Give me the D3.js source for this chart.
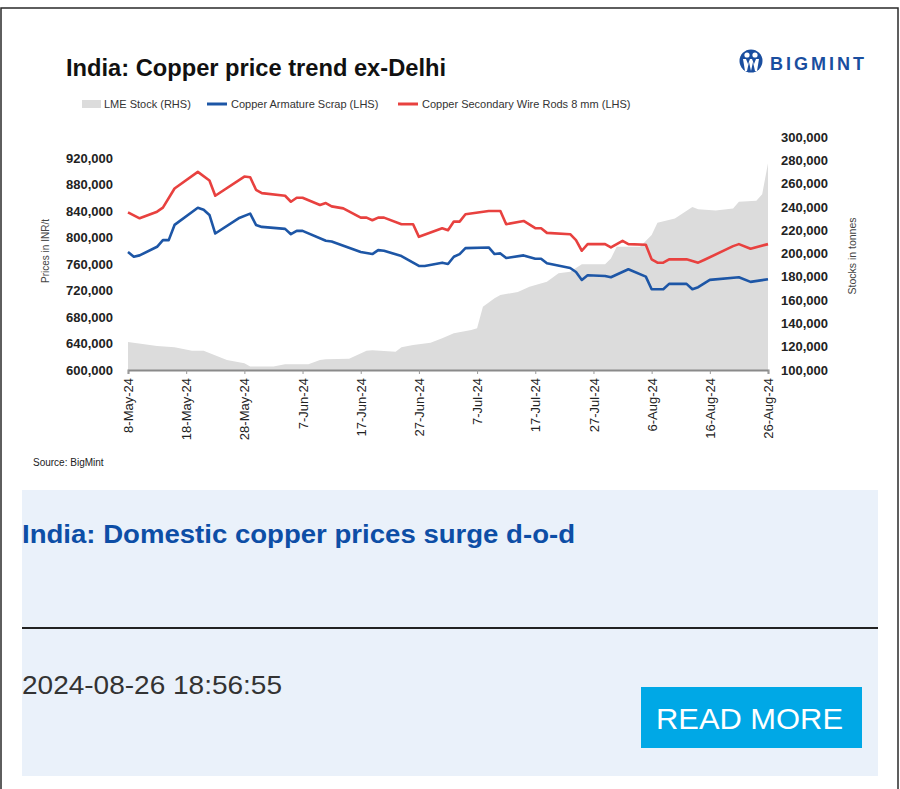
<!DOCTYPE html>
<html lang="en">
<head>
  <meta charset="UTF-8">
  <title>India: Copper price trend ex-Delhi</title>
  <script src="https://d3js.org/d3.v7.min.js"></script>
  <style>
    html, body { margin: 0; padding: 0; background: #fff; }
    svg { display: block; font-family: "Liberation Sans", Arial, sans-serif; }
  </style>
</head>
<body>
<div id="app"></div>
<script>
  // values: [date, value]
  const lmeStock = [
    ['2024-05-08', 124000], ['2024-05-13', 120600], ['2024-05-16', 119500], ['2024-05-19', 116600],
    ['2024-05-21', 116600], ['2024-05-25', 108600], ['2024-05-28', 105700], ['2024-05-29', 102900],
    ['2024-06-02', 103000], ['2024-06-04', 104900], ['2024-06-08', 105000], ['2024-06-10', 108600],
    ['2024-06-11', 109200], ['2024-06-15', 109700], ['2024-06-18', 116600], ['2024-06-19', 117000],
    ['2024-06-23', 115700], ['2024-06-24', 119500], ['2024-06-26', 121500], ['2024-06-29', 123400],
    ['2024-07-01', 127200], ['2024-07-03', 131500], ['2024-07-06', 134300], ['2024-07-07', 135800],
    ['2024-07-08', 154300], ['2024-07-10', 161500], ['2024-07-11', 164400], ['2024-07-14', 167000],
    ['2024-07-16', 171500], ['2024-07-19', 175800], ['2024-07-21', 183000], ['2024-07-23', 184300],
    ['2024-07-25', 190700], ['2024-07-29', 190700], ['2024-07-30', 195800], ['2024-07-31', 205800],
    ['2024-08-04', 205800], ['2024-08-06', 215800], ['2024-08-07', 226400], ['2024-08-10', 230000],
    ['2024-08-13', 240000], ['2024-08-14', 238000], ['2024-08-17', 237000], ['2024-08-20', 238700],
    ['2024-08-21', 244400], ['2024-08-24', 245300], ['2024-08-25', 250800], ['2024-08-26', 277400]
  ];

  const armatureScrap = [
    ['2024-05-08', 778000], ['2024-05-09', 771000], ['2024-05-10', 773000], ['2024-05-13', 786000],
    ['2024-05-14', 796000], ['2024-05-15', 796000], ['2024-05-16', 819000], ['2024-05-20', 845000],
    ['2024-05-21', 842000], ['2024-05-22', 834000], ['2024-05-23', 806000], ['2024-05-27', 829000],
    ['2024-05-29', 836000], ['2024-05-30', 819000], ['2024-05-31', 816000], ['2024-06-04', 813000],
    ['2024-06-05', 805000], ['2024-06-06', 810000], ['2024-06-07', 810000], ['2024-06-11', 795000],
    ['2024-06-12', 794000], ['2024-06-17', 778000], ['2024-06-19', 775000], ['2024-06-20', 781000],
    ['2024-06-21', 780000], ['2024-06-24', 772000], ['2024-06-27', 757000], ['2024-06-28', 757000],
    ['2024-07-01', 762000], ['2024-07-02', 760000], ['2024-07-03', 771000], ['2024-07-04', 775000],
    ['2024-07-05', 784000], ['2024-07-09', 785000], ['2024-07-10', 775000], ['2024-07-11', 776000],
    ['2024-07-12', 769000], ['2024-07-15', 773000], ['2024-07-17', 768000], ['2024-07-18', 768000],
    ['2024-07-19', 761000], ['2024-07-23', 754000], ['2024-07-24', 748000], ['2024-07-25', 736000],
    ['2024-07-26', 743000], ['2024-07-29', 742000], ['2024-07-30', 740000], ['2024-08-02', 752000],
    ['2024-08-05', 741000], ['2024-08-06', 722000], ['2024-08-08', 722000], ['2024-08-09', 730000],
    ['2024-08-12', 730000], ['2024-08-13', 722000], ['2024-08-14', 725000], ['2024-08-16', 736000],
    ['2024-08-21', 740000], ['2024-08-23', 733000], ['2024-08-26', 737000]
  ];

  const wireRods = [
    ['2024-05-08', 838000], ['2024-05-10', 829000], ['2024-05-13', 839000], ['2024-05-14', 845000],
    ['2024-05-16', 874000], ['2024-05-20', 899000], ['2024-05-22', 886000], ['2024-05-23', 863000],
    ['2024-05-28', 892000], ['2024-05-29', 891000], ['2024-05-30', 872000], ['2024-05-31', 867000],
    ['2024-06-04', 863000], ['2024-06-05', 854000], ['2024-06-06', 860000], ['2024-06-07', 860000],
    ['2024-06-10', 849000], ['2024-06-11', 852000], ['2024-06-12', 847000], ['2024-06-14', 844000],
    ['2024-06-17', 830000], ['2024-06-18', 830000], ['2024-06-19', 826000], ['2024-06-20', 830000],
    ['2024-06-21', 830000], ['2024-06-24', 820000], ['2024-06-26', 820000], ['2024-06-27', 801000],
    ['2024-07-01', 814000], ['2024-07-02', 811000], ['2024-07-03', 824000], ['2024-07-04', 824000],
    ['2024-07-05', 835000], ['2024-07-09', 840000], ['2024-07-11', 840000], ['2024-07-12', 820000],
    ['2024-07-15', 825000], ['2024-07-17', 814000], ['2024-07-18', 814000], ['2024-07-19', 807000],
    ['2024-07-23', 805000], ['2024-07-24', 796000], ['2024-07-25', 780000], ['2024-07-26', 790000],
    ['2024-07-29', 790000], ['2024-07-30', 785000], ['2024-08-01', 795000], ['2024-08-02', 790000],
    ['2024-08-05', 789000], ['2024-08-06', 767000], ['2024-08-07', 762000], ['2024-08-08', 762000],
    ['2024-08-09', 767000], ['2024-08-12', 767000], ['2024-08-14', 762000], ['2024-08-15', 766000],
    ['2024-08-20', 787000], ['2024-08-21', 790000], ['2024-08-23', 783000], ['2024-08-26', 790000]
  ];

  const xTicks = ['2024-05-08', '2024-05-18', '2024-05-28', '2024-06-07', '2024-06-17', '2024-06-27',
    '2024-07-07', '2024-07-17', '2024-07-27', '2024-08-06', '2024-08-16', '2024-08-26'];
  const leftTicks = [600000, 640000, 680000, 720000, 760000, 800000, 840000, 880000, 920000];
  const rightTicks = [100000, 120000, 140000, 160000, 180000, 200000, 220000, 240000, 260000, 280000, 300000];

  const legendItems = [
    { label: 'LME Stock (RHS)', type: 'area', color: '#dcdcdc' },
    { label: 'Copper Armature Scrap (LHS)', type: 'line', color: '#1d56a6' },
    { label: 'Copper Secondary Wire Rods 8 mm (LHS)', type: 'line', color: '#e8413f' }
  ];

  const parse = d3.timeParse('%Y-%m-%d');
  const fmtTick = d3.timeFormat('%-d-%b-%y');
  const fmtNum = d3.format(',');

  const w = 900;
  const h = 789;
  const left = 128;
  const right = 768;
  const bottom = 370;

  const svg = d3.select('#app')
    .append('svg')
    .attr('width', w)
    .attr('height', h);

  // page frame
  svg.append('rect')
    .attr('x', 1).attr('y', 8)
    .attr('width', w - 3).attr('height', h + 20)
    .attr('fill', '#fff')
    .attr('stroke', '#2a2a2a')
    .attr('stroke-width', 1.5);

  const xScale = d3.scaleTime()
    .domain([parse('2024-05-08'), parse('2024-08-26')])
    .range([left, right]);
  const yLeft = d3.scaleLinear()
    .domain([600000, 920000])
    .range([bottom, 158]);
  const yRight = d3.scaleLinear()
    .domain([100000, 300000])
    .range([bottom, 137]);

  // title
  svg.append('text')
    .attr('x', 66).attr('y', 76)
    .attr('font-size', 23).attr('font-weight', 'bold')
    .attr('fill', '#111')
    .attr('textLength', 380).attr('lengthAdjust', 'spacingAndGlyphs')
    .text('India: Copper price trend ex-Delhi');

  // logo
  const logo = svg.append('g').attr('transform', 'translate(751,61)');
  logo.append('circle').attr('r', 11.5).attr('fill', '#1a4e9f');
  logo.append('circle').attr('cx', -4).attr('cy', -6).attr('r', 2.6).attr('fill', '#fff');
  logo.append('circle').attr('cx', 4).attr('cy', -6).attr('r', 2.6).attr('fill', '#fff');
  logo.append('path')
    .attr('d', 'M-8,-2 L-6,10 L-4,10 L-2,1 L0,10 L2,1 L4,10 L6,10 L8,-2 L5,-2 L3,3 L1,-2 L-1,-2 L-3,3 L-5,-2 Z')
    .attr('fill', '#fff');
  svg.append('text')
    .attr('x', 770).attr('y', 70)
    .attr('font-size', 18).attr('font-weight', 'bold')
    .attr('fill', '#1a4e9f')
    .attr('textLength', 94).attr('lengthAdjust', 'spacing')
    .text('BIGMINT');

  // legend
  const legendX = [82, 207, 398];
  const legend = svg.append('g').attr('font-size', 11).attr('fill', '#333');
  legendItems.forEach((d, i) => {
    const g = legend.append('g').attr('transform', `translate(${legendX[i]},104)`);
    if (d.type === 'area') {
      g.append('rect').attr('x', 0).attr('y', -4).attr('width', 19).attr('height', 8).attr('fill', d.color);
    } else {
      g.append('line').attr('x1', 0).attr('x2', 20).attr('stroke', d.color).attr('stroke-width', 3);
    }
    g.append('text').attr('x', i === 0 ? 22 : 24).attr('dy', '0.35em').text(d.label);
  });

  // LME stock area
  const area = d3.area()
    .x(d => xScale(parse(d[0])))
    .y0(bottom)
    .y1(d => yRight(d[1]));
  svg.append('path')
    .datum(lmeStock)
    .attr('d', area)
    .attr('fill', '#dcdcdc');

  // price lines
  const line = d3.line()
    .x(d => xScale(parse(d[0])))
    .y(d => yLeft(d[1]));
  svg.append('path')
    .datum(wireRods)
    .attr('d', line)
    .attr('fill', 'none')
    .attr('stroke', legendItems[2].color)
    .attr('stroke-width', 2.6)
    .attr('stroke-linejoin', 'round');
  svg.append('path')
    .datum(armatureScrap)
    .attr('d', line)
    .attr('fill', 'none')
    .attr('stroke', legendItems[1].color)
    .attr('stroke-width', 2.6)
    .attr('stroke-linejoin', 'round');

  // axes
  const yAxisLeft = d3.axisLeft(yLeft).tickValues(leftTicks).tickSize(0).tickPadding(14).tickFormat(fmtNum);
  svg.append('g')
    .attr('transform', `translate(${left - 1},0)`)
    .call(yAxisLeft)
    .call(g => g.select('.domain').remove())
    .selectAll('text')
    .attr('font-family', '"Liberation Sans", Arial, sans-serif')
    .attr('font-size', 13).attr('font-weight', 'bold').attr('fill', '#222');

  const yAxisRight = d3.axisRight(yRight).tickValues(rightTicks).tickSize(0).tickPadding(12).tickFormat(fmtNum);
  svg.append('g')
    .attr('transform', `translate(${right + 1},0)`)
    .call(yAxisRight)
    .call(g => g.select('.domain').remove())
    .selectAll('text')
    .attr('font-family', '"Liberation Sans", Arial, sans-serif')
    .attr('font-size', 13).attr('font-weight', 'bold').attr('fill', '#222');

  const xAxis = d3.axisBottom(xScale).tickValues(xTicks.map(parse)).tickSize(4).tickFormat(fmtTick);
  const gx = svg.append('g')
    .attr('transform', `translate(0,${bottom})`)
    .call(xAxis);
  gx.select('.domain').attr('stroke', '#8a8a8a').attr('stroke-width', 2);
  gx.selectAll('.tick line').attr('stroke', '#999');
  gx.selectAll('text')
    .attr('font-family', '"Liberation Sans", Arial, sans-serif')
    .attr('font-size', 13).attr('fill', '#222')
    .attr('text-anchor', 'end')
    .attr('transform', 'translate(0,8) rotate(-90)')
    .attr('x', 0).attr('y', 0).attr('dy', '0.35em');

  // axis titles
  svg.append('text')
    .attr('transform', 'translate(45,251) rotate(-90)')
    .attr('text-anchor', 'middle').attr('dy', '0.35em')
    .attr('font-size', 10).attr('fill', '#444')
    .text('Prices in INR/t');
  svg.append('text')
    .attr('transform', 'translate(852,256) rotate(-90)')
    .attr('text-anchor', 'middle').attr('dy', '0.35em')
    .attr('font-size', 10.5).attr('fill', '#444')
    .text('Stocks in tonnes');

  svg.append('text')
    .attr('x', 33).attr('y', 466)
    .attr('font-size', 10).attr('fill', '#222')
    .text('Source: BigMint');

  // news card below the chart
  svg.append('rect')
    .attr('x', 22).attr('y', 490)
    .attr('width', 856).attr('height', 286)
    .attr('fill', '#eaf1fa');
  svg.append('text')
    .attr('x', 22).attr('y', 543)
    .attr('font-size', 25).attr('font-weight', 'bold')
    .attr('fill', '#0d4ea6')
    .attr('textLength', 553).attr('lengthAdjust', 'spacingAndGlyphs')
    .text('India: Domestic copper prices surge d-o-d');
  svg.append('line')
    .attr('x1', 22).attr('x2', 878)
    .attr('y1', 628).attr('y2', 628)
    .attr('stroke', '#222').attr('stroke-width', 2);
  svg.append('text')
    .attr('x', 22).attr('y', 694)
    .attr('font-size', 25).attr('fill', '#333')
    .attr('textLength', 260).attr('lengthAdjust', 'spacingAndGlyphs')
    .text('2024-08-26 18:56:55');
  svg.append('rect')
    .attr('x', 641).attr('y', 687)
    .attr('width', 221).attr('height', 61)
    .attr('fill', '#00a8e6');
  svg.append('text')
    .attr('x', 656).attr('y', 729)
    .attr('font-size', 29).attr('fill', '#fff')
    .attr('textLength', 187).attr('lengthAdjust', 'spacingAndGlyphs')
    .text('READ MORE');
</script>
</body>
</html>
